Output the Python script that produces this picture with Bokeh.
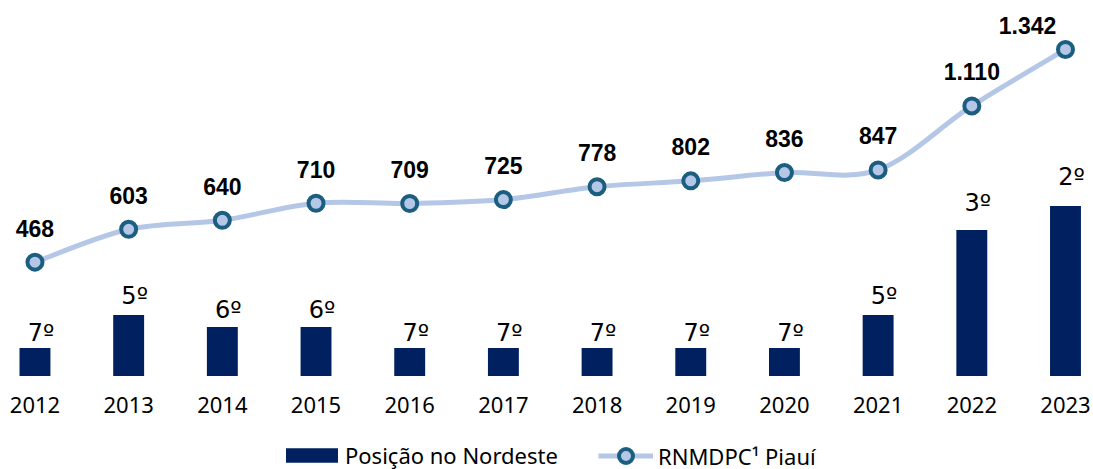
from bokeh.plotting import figure
from bokeh.models import ColumnDataSource, Range1d, LinearAxis, FixedTicker, Legend, LegendItem
from bokeh.core.properties import value
from bokeh.embed import file_html
from bokeh.resources import INLINE

# ---------------- data ----------------
years = ["2012", "2013", "2014", "2015", "2016", "2017",
         "2018", "2019", "2020", "2021", "2022", "2023"]
rnmdpc = [468, 603, 640, 710, 709, 725, 778, 802, 836, 847, 1110, 1342]
rnmdpc_labels = ["468", "603", "640", "710", "709", "725",
                 "778", "802", "836", "847", "1.110", "1.342"]
positions = ["7º", "5º", "6º", "6º", "7º", "7º", "7º", "7º", "7º", "5º", "3º", "2º"]
bar_heights = [2.8, 6.1, 4.9, 4.9, 2.8, 2.8, 2.8, 2.8, 2.8, 6.1, 14.6, 17.0]

# ---------------- styles ----------------
BAR_COLOR = "#002060"
LINE_COLOR = "#b4c7e7"
MARK_EDGE = "#1b5e80"
TXT = "#000000"
FONT = "Noto Sans"
BAR_LBL_FONT = "DejaVu Sans"
BOLD_FONT = "Liberation Sans"

n = len(years)
xs = list(range(n))

W, H = 1093, 469
p = figure(width=W, height=H,
           x_range=Range1d(-0.368, 11.299),
           y_range=Range1d(-384.3, 1543.3),
           output_backend="svg", toolbar_location=None,
           min_border=0, x_axis_location=None, y_axis_location=None)
p.extra_y_ranges = {"bars": Range1d(-9.35, 37.55)}
p.grid.visible = False
p.outline_line_color = None
p.background_fill_color = "white"
p.border_fill_color = "white"

xaxis = LinearAxis(ticker=FixedTicker(ticks=xs),
                   major_label_overrides={i: y for i, y in zip(xs, years)},
                   fixed_location=0)
xaxis.axis_line_color = None
xaxis.major_tick_line_color = None
xaxis.minor_tick_line_color = None
xaxis.major_label_standoff = 15
xaxis.major_label_text_font = FONT
xaxis.major_label_text_font_size = "22px"
xaxis.major_label_text_color = TXT
p.add_layout(xaxis, "below")

# bars
bsrc = ColumnDataSource(dict(x=xs, top=bar_heights, lab=positions,
                             ly=[v * 1.1 for v in bar_heights]))
bars_r = p.vbar(x="x", top="top", bottom=0, width=0.33, source=bsrc,
                y_range_name="bars", fill_color=BAR_COLOR, line_color=None)
p.text(x="x", y="ly", text="lab", source=bsrc, y_range_name="bars",
       text_align="center", text_baseline="middle",
       x_offset=6, y_offset=-12.5,
       text_font=value(BAR_LBL_FONT), text_font_size="24px", text_color=TXT)

# smooth line (Catmull-Rom converted to cubic Bezier segments)
pts = list(zip(xs, rnmdpc))
seg = dict(x0=[], y0=[], x1=[], y1=[], cx0=[], cy0=[], cx1=[], cy1=[])
for i in range(n - 1):
    p0 = pts[max(i - 1, 0)]
    p1 = pts[i]
    p2 = pts[i + 1]
    p3 = pts[min(i + 2, n - 1)]
    seg["x0"].append(p1[0]); seg["y0"].append(p1[1])
    seg["x1"].append(p2[0]); seg["y1"].append(p2[1])
    seg["cx0"].append(p1[0] + (p2[0] - p0[0]) / 6)
    seg["cy0"].append(p1[1] + (p2[1] - p0[1]) / 6)
    seg["cx1"].append(p2[0] - (p3[0] - p1[0]) / 6)
    seg["cy1"].append(p2[1] - (p3[1] - p1[1]) / 6)
line_r = p.bezier(x0="x0", y0="y0", x1="x1", y1="y1", cx0="cx0", cy0="cy0",
                  cx1="cx1", cy1="cy1", source=ColumnDataSource(seg),
                  line_color=LINE_COLOR, line_width=5)

lsrc = ColumnDataSource(dict(x=xs, y=rnmdpc, lab=rnmdpc_labels,
                             dx=[0] * (n - 1) + [-38],
                             dy=[-34] * (n - 1) + [-24]))
pts_r = p.scatter(x="x", y="y", source=lsrc, size=15, fill_color=LINE_COLOR,
                  line_color=MARK_EDGE, line_width=4)
p.text(x="x", y="y", text="lab", source=lsrc, x_offset="dx", y_offset="dy",
       text_align="center", text_baseline="middle",
       text_font=value(BOLD_FONT), text_font_style="bold",
       text_font_size="23px", text_color=TXT)

# legends
def mk_legend(item, loc, gw, gh, standoff):
    return Legend(items=[item], location=loc, orientation="horizontal",
                  glyph_width=gw, glyph_height=gh, label_standoff=standoff,
                  padding=0, margin=0, spacing=0,
                  border_line_alpha=0, background_fill_alpha=0,
                  label_text_font=FONT, label_text_font_size="22px",
                  label_text_color=TXT, label_height=18)

p.add_layout(mk_legend(LegendItem(label="Posição no Nordeste", renderers=[bars_r]),
                       (279, -1), 65, 18, 1))
p.add_layout(mk_legend(LegendItem(label="RNMDPC¹ Piauí", renderers=[line_r, pts_r]),
                       (598, -4), 55, 35, 5))

open("out.html", "w").write(file_html(p, INLINE))
